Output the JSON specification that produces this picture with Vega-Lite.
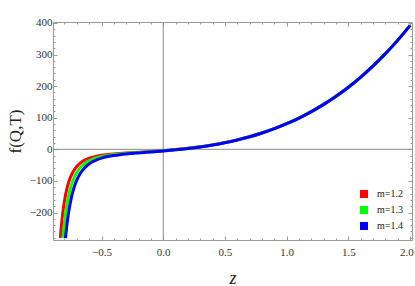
{
  "$schema": "https://vega.github.io/schema/vega-lite/v6.json",
  "width": 359,
  "height": 218,
  "autosize": "none",
  "padding": {"left": 53, "top": 22, "right": 3, "bottom": 46},
  "config": {
    "view": {"stroke": "#999999", "strokeWidth": 1},
    "font": "Liberation Serif",
    "axis": {
      "domain": false,
      "grid": false,
      "tickColor": "#999999",
      "labelFont": "Liberation Serif",
      "labelFontSize": 11,
      "labelColor": "#333333",
      "labelOverlap": false,
      "labelFlush": false,
      "titleFont": "Liberation Serif",
      "titleColor": "#222222",
      "titleFontWeight": "normal"
    },
    "legend": {"labelFont": "Liberation Serif"}
  },
  "datasets": {
    "zero": [{"v": 0}],
    "curves": [
      {"z": -0.8335, "f": -280.0, "m": "m=1.2"},
      {"z": -0.83, "f": -263.2, "m": "m=1.2"},
      {"z": -0.825, "f": -241.5, "m": "m=1.2"},
      {"z": -0.82, "f": -222.2, "m": "m=1.2"},
      {"z": -0.8126, "f": -197.3, "m": "m=1.2"},
      {"z": -0.8, "f": -163.2, "m": "m=1.2"},
      {"z": -0.792, "f": -145.7, "m": "m=1.2"},
      {"z": -0.785, "f": -132.5, "m": "m=1.2"},
      {"z": -0.775, "f": -116.5, "m": "m=1.2"},
      {"z": -0.76, "f": -97.2, "m": "m=1.2"},
      {"z": -0.745, "f": -82.4, "m": "m=1.2"},
      {"z": -0.73, "f": -70.7, "m": "m=1.2"},
      {"z": -0.71, "f": -58.7, "m": "m=1.2"},
      {"z": -0.69, "f": -49.7, "m": "m=1.2"},
      {"z": -0.67, "f": -42.7, "m": "m=1.2"},
      {"z": -0.64, "f": -35.0, "m": "m=1.2"},
      {"z": -0.61, "f": -29.5, "m": "m=1.2"},
      {"z": -0.58, "f": -25.5, "m": "m=1.2"},
      {"z": -0.54, "f": -21.6, "m": "m=1.2"},
      {"z": -0.5, "f": -18.8, "m": "m=1.2"},
      {"z": -0.45, "f": -16.3, "m": "m=1.2"},
      {"z": -0.4, "f": -14.4, "m": "m=1.2"},
      {"z": -0.35, "f": -12.9, "m": "m=1.2"},
      {"z": -0.3, "f": -11.7, "m": "m=1.2"},
      {"z": -0.2, "f": -9.3, "m": "m=1.2"},
      {"z": -0.1, "f": -7.0, "m": "m=1.2"},
      {"z": 0.0, "f": -4.2, "m": "m=1.2"},
      {"z": 0.1, "f": -0.9, "m": "m=1.2"},
      {"z": 0.2, "f": 3.1, "m": "m=1.2"},
      {"z": 0.3, "f": 8.1, "m": "m=1.2"},
      {"z": 0.4, "f": 14.1, "m": "m=1.2"},
      {"z": 0.5, "f": 21.3, "m": "m=1.2"},
      {"z": 0.6, "f": 29.9, "m": "m=1.2"},
      {"z": 0.7, "f": 40.0, "m": "m=1.2"},
      {"z": 0.8, "f": 51.8, "m": "m=1.2"},
      {"z": 0.9, "f": 65.5, "m": "m=1.2"},
      {"z": 1.0, "f": 81.1, "m": "m=1.2"},
      {"z": 1.1, "f": 99.0, "m": "m=1.2"},
      {"z": 1.2, "f": 119.4, "m": "m=1.2"},
      {"z": 1.3, "f": 142.2, "m": "m=1.2"},
      {"z": 1.4, "f": 168.0, "m": "m=1.2"},
      {"z": 1.5, "f": 196.5, "m": "m=1.2"},
      {"z": 1.6, "f": 228.6, "m": "m=1.2"},
      {"z": 1.7, "f": 264.0, "m": "m=1.2"},
      {"z": 1.8, "f": 302.8, "m": "m=1.2"},
      {"z": 1.9, "f": 345.6, "m": "m=1.2"},
      {"z": 2.0, "f": 392.4, "m": "m=1.2"},

      {"z": -0.8126, "f": -280.0, "m": "m=1.3"},
      {"z": -0.805, "f": -248.7, "m": "m=1.3"},
      {"z": -0.8, "f": -230.7, "m": "m=1.3"},
      {"z": -0.792, "f": -205.5, "m": "m=1.3"},
      {"z": -0.785, "f": -186.5, "m": "m=1.3"},
      {"z": -0.775, "f": -163.3, "m": "m=1.3"},
      {"z": -0.76, "f": -135.6, "m": "m=1.3"},
      {"z": -0.745, "f": -114.2, "m": "m=1.3"},
      {"z": -0.73, "f": -97.3, "m": "m=1.3"},
      {"z": -0.71, "f": -80.0, "m": "m=1.3"},
      {"z": -0.69, "f": -67.0, "m": "m=1.3"},
      {"z": -0.67, "f": -57.0, "m": "m=1.3"},
      {"z": -0.64, "f": -45.9, "m": "m=1.3"},
      {"z": -0.61, "f": -38.1, "m": "m=1.3"},
      {"z": -0.58, "f": -32.3, "m": "m=1.3"},
      {"z": -0.54, "f": -26.7, "m": "m=1.3"},
      {"z": -0.5, "f": -22.8, "m": "m=1.3"},
      {"z": -0.45, "f": -19.3, "m": "m=1.3"},
      {"z": -0.4, "f": -16.7, "m": "m=1.3"},
      {"z": -0.35, "f": -14.7, "m": "m=1.3"},
      {"z": -0.3, "f": -13.0, "m": "m=1.3"},
      {"z": -0.2, "f": -10.3, "m": "m=1.3"},
      {"z": -0.1, "f": -7.6, "m": "m=1.3"},
      {"z": 0.0, "f": -4.7, "m": "m=1.3"},
      {"z": 0.1, "f": -1.3, "m": "m=1.3"},
      {"z": 0.2, "f": 2.9, "m": "m=1.3"},
      {"z": 0.3, "f": 7.9, "m": "m=1.3"},
      {"z": 0.4, "f": 13.9, "m": "m=1.3"},
      {"z": 0.5, "f": 21.2, "m": "m=1.3"},
      {"z": 0.6, "f": 29.8, "m": "m=1.3"},
      {"z": 0.7, "f": 39.9, "m": "m=1.3"},
      {"z": 0.8, "f": 51.7, "m": "m=1.3"},
      {"z": 0.9, "f": 65.4, "m": "m=1.3"},
      {"z": 1.0, "f": 81.1, "m": "m=1.3"},
      {"z": 1.1, "f": 98.9, "m": "m=1.3"},
      {"z": 1.2, "f": 119.4, "m": "m=1.3"},
      {"z": 1.3, "f": 142.2, "m": "m=1.3"},
      {"z": 1.4, "f": 168.0, "m": "m=1.3"},
      {"z": 1.5, "f": 196.5, "m": "m=1.3"},
      {"z": 1.6, "f": 228.6, "m": "m=1.3"},
      {"z": 1.7, "f": 264.0, "m": "m=1.3"},
      {"z": 1.8, "f": 302.8, "m": "m=1.3"},
      {"z": 1.9, "f": 345.6, "m": "m=1.3"},
      {"z": 2.0, "f": 392.4, "m": "m=1.3"},

      {"z": -0.792, "f": -280.9, "m": "m=1.4"},
      {"z": -0.789, "f": -269.2, "m": "m=1.4"},
      {"z": -0.785, "f": -254.5, "m": "m=1.4"},
      {"z": -0.775, "f": -222.4, "m": "m=1.4"},
      {"z": -0.76, "f": -184.0, "m": "m=1.4"},
      {"z": -0.745, "f": -154.3, "m": "m=1.4"},
      {"z": -0.73, "f": -130.9, "m": "m=1.4"},
      {"z": -0.71, "f": -106.9, "m": "m=1.4"},
      {"z": -0.69, "f": -88.9, "m": "m=1.4"},
      {"z": -0.67, "f": -75.1, "m": "m=1.4"},
      {"z": -0.64, "f": -59.7, "m": "m=1.4"},
      {"z": -0.61, "f": -48.8, "m": "m=1.4"},
      {"z": -0.58, "f": -40.8, "m": "m=1.4"},
      {"z": -0.54, "f": -33.2, "m": "m=1.4"},
      {"z": -0.5, "f": -27.7, "m": "m=1.4"},
      {"z": -0.45, "f": -22.9, "m": "m=1.4"},
      {"z": -0.4, "f": -19.5, "m": "m=1.4"},
      {"z": -0.35, "f": -16.9, "m": "m=1.4"},
      {"z": -0.3, "f": -14.8, "m": "m=1.4"},
      {"z": -0.2, "f": -11.4, "m": "m=1.4"},
      {"z": -0.1, "f": -8.4, "m": "m=1.4"},
      {"z": 0.0, "f": -5.3, "m": "m=1.4"},
      {"z": 0.1, "f": -1.7, "m": "m=1.4"},
      {"z": 0.2, "f": 2.6, "m": "m=1.4"},
      {"z": 0.3, "f": 7.7, "m": "m=1.4"},
      {"z": 0.4, "f": 13.7, "m": "m=1.4"},
      {"z": 0.5, "f": 21.0, "m": "m=1.4"},
      {"z": 0.6, "f": 29.7, "m": "m=1.4"},
      {"z": 0.7, "f": 39.8, "m": "m=1.4"},
      {"z": 0.8, "f": 51.6, "m": "m=1.4"},
      {"z": 0.9, "f": 65.3, "m": "m=1.4"},
      {"z": 1.0, "f": 81.0, "m": "m=1.4"},
      {"z": 1.1, "f": 98.9, "m": "m=1.4"},
      {"z": 1.2, "f": 119.3, "m": "m=1.4"},
      {"z": 1.3, "f": 142.2, "m": "m=1.4"},
      {"z": 1.4, "f": 168.0, "m": "m=1.4"},
      {"z": 1.5, "f": 196.5, "m": "m=1.4"},
      {"z": 1.6, "f": 228.6, "m": "m=1.4"},
      {"z": 1.7, "f": 264.0, "m": "m=1.4"},
      {"z": 1.8, "f": 302.8, "m": "m=1.4"},
      {"z": 1.9, "f": 345.6, "m": "m=1.4"},
      {"z": 2.0, "f": 392.4, "m": "m=1.4"}
    ]
  },
  "resolve": {"scale": {"x": "independent", "y": "independent"}},
  "layer": [
    {
      "data": {"name": "zero"},
      "mark": {"type": "rule", "color": "#8c8c8c", "strokeWidth": 1},
      "encoding": {
        "x": {"field": "v", "type": "quantitative", "scale": {"domain": [-0.893, 2.015], "nice": false, "zero": false}, "axis": null}
      }
    },
    {
      "data": {"name": "zero"},
      "mark": {"type": "rule", "color": "#8c8c8c", "strokeWidth": 1},
      "encoding": {
        "y": {"field": "v", "type": "quantitative", "scale": {"domain": [-287, 403], "nice": false, "zero": false}, "axis": null}
      }
    },
    {
      "data": {"name": "curves"},
      "mark": {"type": "line", "strokeWidth": 3, "interpolate": "monotone", "clip": true},
      "encoding": {
        "x": {
          "field": "z", "type": "quantitative",
          "scale": {"domain": [-0.893, 2.015], "nice": false, "zero": false},
          "axis": {
            "orient": "bottom",
            "title": "z",
            "titleFont": "Liberation Serif",
            "titleFontStyle": "italic",
            "titleFontSize": 18,
            "titlePadding": 10,
            "labelFont": "Liberation Serif",
            "values": [-0.8, -0.7, -0.6, -0.5, -0.4, -0.3, -0.2, -0.1, 0, 0.1, 0.2, 0.3, 0.4, 0.5, 0.6, 0.7, 0.8, 0.9, 1, 1.1, 1.2, 1.3, 1.4, 1.5, 1.6, 1.7, 1.8, 1.9, 2],
            "format": ".1f",
            "labelExpr": "abs(datum.value*2 - round(datum.value*2)) < 1e-6 ? datum.label : ''",
            "tickSize": {"condition": {"test": "abs(datum.value*2 - round(datum.value*2)) < 1e-6", "value": -4}, "value": -2},
            "labelPadding": 10,
            "labelFlush": 5,
            "labelFlushOffset": 3
          }
        },
        "y": {
          "field": "f", "type": "quantitative",
          "scale": {"domain": [-287, 403], "nice": false, "zero": false},
          "axis": {
            "orient": "left",
            "title": "f(Q,T)",
            "titleFont": "Liberation Serif",
            "titleFontSize": 17,
            "titlePadding": 5,
            "labelFont": "Liberation Serif",
            "values": [-280, -260, -240, -220, -200, -180, -160, -140, -120, -100, -80, -60, -40, -20, 0, 20, 40, 60, 80, 100, 120, 140, 160, 180, 200, 220, 240, 260, 280, 300, 320, 340, 360, 380, 400],
            "labelExpr": "datum.value % 100 === 0 ? datum.label : ''",
            "tickSize": {"condition": {"test": "datum.value % 100 === 0", "value": -4}, "value": -2},
            "labelPadding": 5
          }
        },
        "color": {
          "field": "m", "type": "nominal",
          "scale": {"domain": ["m=1.2", "m=1.3", "m=1.4"], "range": ["#ff0000", "#00ff00", "#0000ff"]},
          "legend": {
            "title": null,
            "orient": "none",
            "legendX": 306,
            "legendY": 167,
            "padding": 0,
            "symbolType": "square",
            "symbolSize": 64,
            "symbolStrokeWidth": 0,
            "labelFont": "Liberation Serif",
            "labelFontSize": 10,
            "labelColor": "#222222",
            "labelOffset": 8,
            "rowPadding": 6,
            "encode": {"symbols": {"update": {"fill": {"scale": "color", "field": "value"}, "strokeWidth": {"value": 0}}}}
          }
        }
      }
    },
    {
      "data": {"name": "curves"},
      "mark": {"type": "point", "opacity": 0},
      "encoding": {
        "x": {
          "field": "z", "type": "quantitative",
          "scale": {"domain": [-0.893, 2.015], "nice": false, "zero": false},
          "axis": {
            "orient": "top", "title": null, "labels": false,
            "values": [-0.8, -0.7, -0.6, -0.5, -0.4, -0.3, -0.2, -0.1, 0, 0.1, 0.2, 0.3, 0.4, 0.5, 0.6, 0.7, 0.8, 0.9, 1, 1.1, 1.2, 1.3, 1.4, 1.5, 1.6, 1.7, 1.8, 1.9, 2],
            "tickSize": {"condition": {"test": "abs(datum.value*2 - round(datum.value*2)) < 1e-6", "value": -4}, "value": -2}
          }
        },
        "y": {
          "field": "f", "type": "quantitative",
          "scale": {"domain": [-287, 403], "nice": false, "zero": false},
          "axis": {
            "orient": "right", "title": null, "labels": false,
            "values": [-280, -260, -240, -220, -200, -180, -160, -140, -120, -100, -80, -60, -40, -20, 0, 20, 40, 60, 80, 100, 120, 140, 160, 180, 200, 220, 240, 260, 280, 300, 320, 340, 360, 380, 400],
            "tickSize": {"condition": {"test": "datum.value % 100 === 0", "value": -4}, "value": -2}
          }
        }
      }
    }
  ]
}
